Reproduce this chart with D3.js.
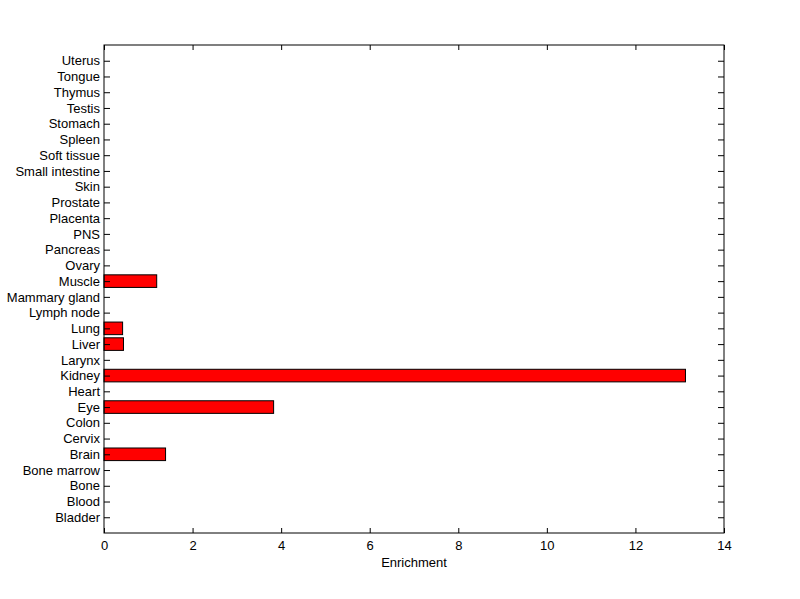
<!DOCTYPE html>
<html><head><meta charset="utf-8">
<script src="https://cdn.jsdelivr.net/npm/d3@7"></script>
<style>body{margin:0;background:#fff;}svg{display:block;}text{font-family:"Liberation Sans",Arial,sans-serif;}</style>
</head><body>
<script>
const categories = ["Bladder","Blood","Bone","Bone marrow","Brain","Cervix","Colon","Eye","Heart","Kidney","Larynx","Liver","Lung","Lymph node","Mammary gland","Muscle","Ovary","Pancreas","PNS","Placenta","Prostate","Skin","Small intestine","Soft tissue","Spleen","Stomach","Testis","Thymus","Tongue","Uterus"];
const values = [0,0,0,0,1.39,0,0,3.83,0,13.13,0,0.44,0.42,0,0,1.19,0,0,0,0,0,0,0,0,0,0,0,0,0,0];
const xTicks = [0,2,4,6,8,10,12,14];
const xLabel = "Enrichment";

const W=800,H=599;
const L=104,R=724,T=45,B=533;
const svg=d3.select("body").append("svg").attr("width",W).attr("height",H);
const x=d3.scaleLinear().domain([0,14]).range([L,R]);
const y=d3.scaleLinear().domain([0,31]).range([B,T]);
const bw=(y(0)-y(0.8));

svg.append("g").selectAll("rect").data(values.map((v,i)=>({v,i}))).enter()
  .filter(d=>d.v>0).append("rect")
  .attr("x",x(0)).attr("y",d=>y(d.i+1)-bw/2).attr("width",d=>x(d.v)-x(0)).attr("height",bw)
  .attr("fill","#ff0000").attr("stroke","#000").attr("stroke-width",1);

const fs="13px";
const gb=svg.append("g").attr("transform",`translate(0,${B})`).call(d3.axisBottom(x).tickValues(xTicks).tickSize(-5).tickPadding(8));
const gt=svg.append("g").attr("transform",`translate(0,${T})`).call(d3.axisTop(x).tickValues(xTicks).tickSize(-5).tickFormat(""));
const yTicks=d3.range(1,31);
const gl=svg.append("g").attr("transform",`translate(${L},0)`).call(d3.axisLeft(y).tickValues(yTicks).tickSize(-6).tickPadding(4).tickFormat(d=>categories[d-1]));
const gr=svg.append("g").attr("transform",`translate(${R},0)`).call(d3.axisRight(y).tickValues(yTicks).tickSize(-6).tickFormat(""));
[gb,gt,gl,gr].forEach(g=>{
  g.select(".domain").remove();
  g.selectAll("line").attr("stroke","#000");
  g.selectAll("text").attr("fill","#000").style("font-size",fs).style("font-family",'"Liberation Sans",Arial,sans-serif');
});
gl.selectAll(".tick text").attr("x",-4);
gb.selectAll(".tick text").attr("y",8);
svg.append("rect").attr("x",L).attr("y",T).attr("width",R-L).attr("height",B-T).attr("fill","none").attr("stroke","#000").attr("stroke-width",1);
svg.append("text").attr("x",(L+R)/2).attr("y",567).attr("text-anchor","middle").style("font-size",fs).attr("fill","#000").text(xLabel);
</script>
</body></html>
